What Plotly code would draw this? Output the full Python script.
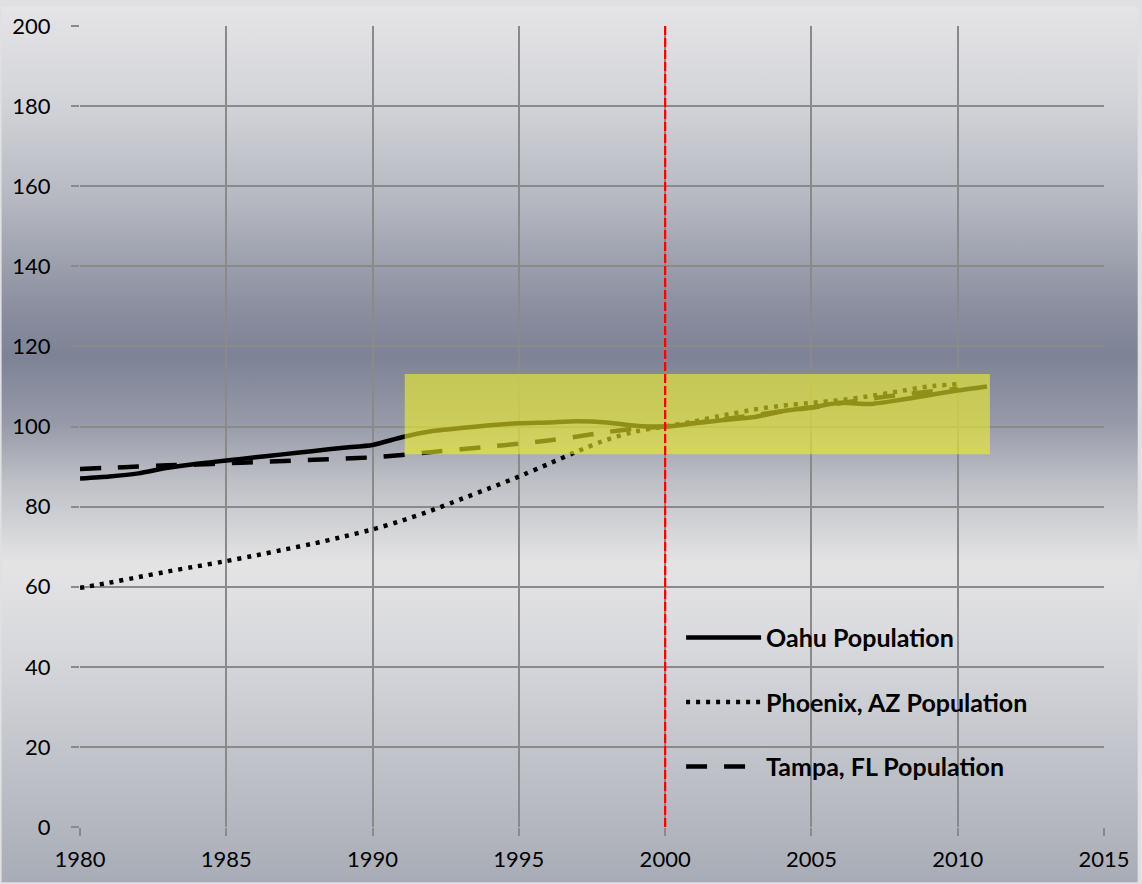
import plotly.graph_objects as go
import urllib.parse

years_oahu = list(range(1980, 2012))
oahu = [87.0, 87.5, 88.3, 89.7, 90.7, 91.5, 92.3, 93.1, 93.9, 94.7, 95.4,
        97.3, 98.8, 99.6, 100.3, 100.8, 101.0, 101.3, 101.0, 100.2, 100.0,
        100.8, 101.6, 102.3, 103.8, 104.8, 105.9, 105.6, 106.6, 107.8, 109.0, 110.0]

years_phx = list(range(1980, 2011))
phoenix = [59.7, 61.0, 62.4, 63.8, 65.1, 66.4, 67.8, 69.3, 70.8, 72.5, 74.3,
           76.5, 79.0, 81.8, 84.6, 87.5, 90.6, 93.8, 96.7, 98.8, 100.0,
           101.3, 102.8, 104.2, 105.2, 105.9, 106.6, 107.6, 108.8, 110.0, 110.6]

years_tpa = list(range(1980, 2011))
tampa = [89.4, 89.7, 90.0, 90.3, 90.5, 90.8, 91.1, 91.4, 91.7, 92.0, 92.3,
         92.9, 93.6, 94.3, 95.0, 95.7, 96.5, 97.5, 98.6, 99.5, 100.0,
         100.9, 101.8, 102.8, 103.8, 104.7, 105.8, 106.9, 107.9, 108.7, 109.4]

series_names = ["Oahu Population", "Phoenix, AZ Population", "Tampa, FL Population"]

highlight_x = [1991.1, 2011.1]
highlight_y = [93.1, 113.1]
marker_year = 2000

x_ticks = [1980, 1985, 1990, 1995, 2000, 2005, 2010, 2015]
y_ticks = list(range(0, 201, 20))

FONT = "Lato"

fig = go.Figure()
fig.add_trace(go.Scatter(x=years_oahu, y=oahu, name=series_names[0], mode="lines",
                         line=dict(color="black", width=4.5, shape="spline", smoothing=0.6),
                         legendgroup="a"))
fig.add_trace(go.Scatter(x=years_phx, y=phoenix, name=series_names[1], mode="lines",
                         line=dict(color="black", width=4.5, dash="4px,6px", shape="spline", smoothing=0.6),
                         legendgroup="b"))
fig.add_trace(go.Scatter(x=years_tpa, y=tampa, name=series_names[2], mode="lines",
                         line=dict(color="black", width=4.5, dash="21px,17px", shape="spline", smoothing=0.6),
                         legendgroup="c"))

# background gradient as an SVG image
stops = [(0, "#e5e5e7"), (100, "#d2d3d8"), (200, "#b4b7c0"), (300, "#8c90a0"),
         (353, "#7d8296"), (420, "#969aa8"), (480, "#bec0c6"), (563, "#e4e4e5"),
         (650, "#d7d8dc"), (750, "#c3c5cc"), (884, "#a8acb6")]
stop_xml = "".join(f'<stop offset="{o/884:.4f}" stop-color="{c}"/>' for o, c in stops)
svg = ('<svg xmlns="http://www.w3.org/2000/svg" width="100" height="884" preserveAspectRatio="none">'
       '<defs><linearGradient id="g" x1="0" y1="0" x2="0" y2="1">' + stop_xml +
       '</linearGradient></defs><rect width="100" height="884" fill="url(#g)"/></svg>')
src = "data:image/svg+xml;charset=utf-8," + urllib.parse.quote(svg)

L, R, T, B = 79, 34, 20, 56
W, H = 1142, 884
pw, ph = W - L - R, H - T - B
fig.add_layout_image(dict(source=src, xref="paper", yref="paper",
                          x=-L / pw, y=1 + T / ph, sizex=W / pw, sizey=H / ph,
                          sizing="stretch", xanchor="left", yanchor="top", layer="below"))

fig.add_shape(type="rect", xref="x", yref="y",
              x0=highlight_x[0], x1=highlight_x[1], y0=highlight_y[0], y1=highlight_y[1],
              fillcolor="rgb(240,240,40)", opacity=0.6, line=dict(width=0), layer="above")
fig.add_shape(type="line", xref="x", yref="y", x0=marker_year, x1=marker_year, y0=0, y1=200,
              line=dict(color="#ff0000", width=2.3, dash="9px,3px"), layer="above")

fig.update_layout(
    width=W, height=H,
    margin=dict(l=L, r=R, t=T, b=B),
    paper_bgcolor="#e0e0e2",
    plot_bgcolor="rgba(0,0,0,0)",
    font=dict(family=FONT, size=22, color="black"),
    showlegend=True,
    legend=dict(x=0.587, y=0.265, xanchor="left", yanchor="top",
                bgcolor="rgba(0,0,0,0)", tracegroupgap=29,
                font=dict(family=FONT, size=25, color="black", weight="bold"),
                itemwidth=75),
)
fig.update_xaxes(range=[1980, 2015], tickvals=x_ticks, showgrid=True,
                 gridcolor="#8a8a8a", gridwidth=2, zeroline=False,
                 ticks="outside", ticklen=8, tickcolor="#8a8a8a", tickwidth=2,
                 ticklabelstandoff=5, tickfont=dict(family=FONT, size=22, color="black"))
fig.update_yaxes(range=[0, 200], tickvals=y_ticks, showgrid=True,
                 gridcolor="#8a8a8a", gridwidth=2, zeroline=False,
                 ticks="outside", ticklen=8, tickcolor="#8a8a8a", tickwidth=2,
                 ticklabelstandoff=16, tickfont=dict(family=FONT, size=22, color="black"))

fig.write_html("out.html", config={"displayModeBar": False},
               post_script="document.body.style.margin='0';document.body.style.overflow='hidden';")
